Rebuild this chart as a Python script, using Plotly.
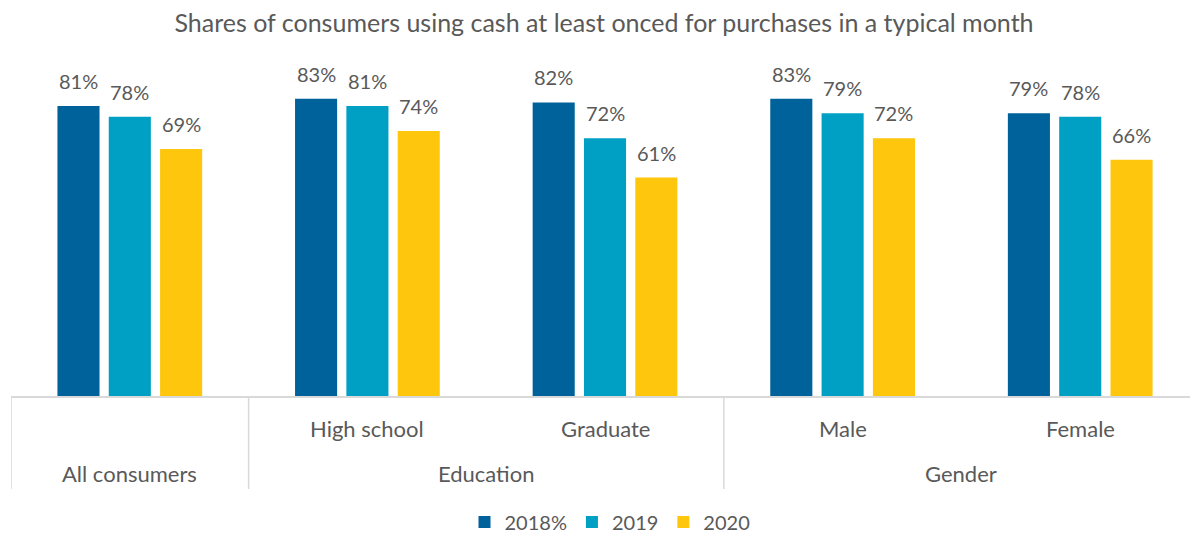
import plotly.graph_objects as go

categories = ["All consumers", "High school", "Graduate", "Male", "Female"]
inner_labels = ["", "High school", "Graduate", "Male", "Female"]
outer_groups = ["All consumers", "Education", "Gender"]
outer_spans = [(0, 0), (1, 2), (3, 4)]
separators = [-0.5, 0.5, 2.5]

series_names = ["2018%", "2019", "2020"]
values_2018 = [81, 83, 82, 83, 79]
values_2019 = [78, 81, 72, 79, 78]
values_2020 = [69, 74, 61, 72, 66]
series_values = [values_2018, values_2019, values_2020]
colors = ["#00629B", "#00A0C4", "#FFC60E"]

FONT = "Lato"
TXT = "#595959"
GRID = "#D9D9D9"
BARGAP = 0.352
GROUPGAP = 0.18

fig = go.Figure()
for name, vals, col in zip(series_names, series_values, colors):
    fig.add_trace(go.Bar(x=categories, y=vals, name=name, marker=dict(color=col, line=dict(width=0))))

annotations = []
slot = (1 - BARGAP) / len(series_names)
for k, vals in enumerate(series_values):
    off = (k - (len(series_names) - 1) / 2) * slot
    for i, v in enumerate(vals):
        annotations.append(dict(x=i + off, y=v, xref="x", yref="y", text=f"{v}%",
                                showarrow=False, yanchor="bottom", yshift=11,
                                font=dict(family=FONT, size=20, color=TXT)))
for i, lab in enumerate(inner_labels):
    if lab:
        annotations.append(dict(x=i, y=0, xref="x", yref="paper", text=lab, showarrow=False,
                                yanchor="middle", yshift=-32,
                                font=dict(family=FONT, size=22, color=TXT)))
for lab, (a, b) in zip(outer_groups, outer_spans):
    annotations.append(dict(x=(a + b) / 2, y=0, xref="x", yref="paper", text=lab, showarrow=False,
                            yanchor="middle", yshift=-77,
                            font=dict(family=FONT, size=22, color=TXT)))

plot_h = 533 - 70 - 137
shapes = [dict(type="line", xref="x", yref="paper", x0=s, x1=s, y0=0, y1=-93 / plot_h,
               line=dict(color=GRID, width=1.5)) for s in separators]

fig.update_layout(
    width=1190, height=533,
    margin=dict(l=11, r=0, t=70, b=137),
    paper_bgcolor="white", plot_bgcolor="white",
    barmode="group", bargap=BARGAP, bargroupgap=GROUPGAP,
    title=dict(text="Shares of consumers using cash at least onced for purchases in a typical month",
               x=604 / 1190, xanchor="center", xref="container",
               y=1 - 23 / 533, yanchor="middle", yref="container",
               font=dict(family=FONT, size=25, color=TXT)),
    xaxis=dict(showticklabels=False, showgrid=False, zeroline=False, showline=True,
               linecolor=GRID, linewidth=1.5, ticks="", range=[-0.5, 4.462], fixedrange=True),
    yaxis=dict(visible=False, range=[0, plot_h / 3.58], showgrid=False, zeroline=False),
    legend=dict(orientation="h", xref="container", yref="container", x=610 / 1190, xanchor="center",
                y=1 - 522 / 533, yanchor="middle", font=dict(family=FONT, size=20, color=TXT),
                itemclick=False),
    annotations=annotations, shapes=shapes,
    font=dict(family=FONT, color=TXT),
)

fig.write_html("out.html", config={"displayModeBar": False},
               post_script="document.body.style.margin='0';document.body.style.overflow='hidden';")
